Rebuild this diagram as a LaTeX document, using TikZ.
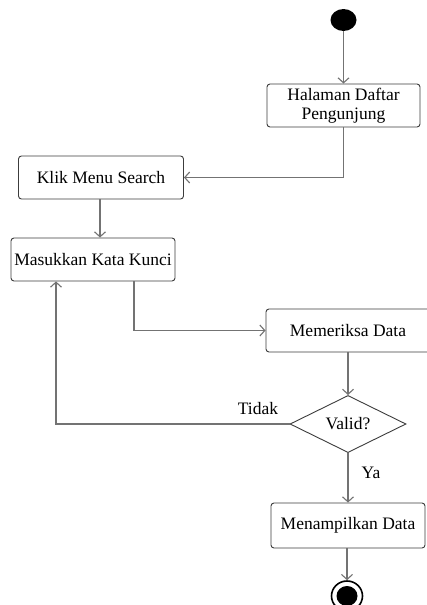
\documentclass[tikz,border=0pt]{standalone}
\usepackage{fontspec}
\setmainfont{Liberation Serif}
\usetikzlibrary{arrows.meta,shapes.geometric}
\definecolor{linegray}{RGB}{115,115,115}
\definecolor{boxgray}{RGB}{60,60,60}
\tikzset{
  actbox/.style={draw=boxgray, line width=0.9pt, rounded corners=3pt, fill=white,
    align=center, inner sep=2pt, font=\fontsize{17.5}{19}\selectfont},
  decis/.style={diamond, draw=boxgray, line width=0.9pt, fill=white, inner sep=0pt,
    minimum width=116pt, minimum height=54pt, font=\fontsize{17.5}{19}\selectfont},
  flow/.style={draw=linegray, line width=1.1pt,
    -{Straight Barb[length=5pt,width=11pt,line width=1.1pt]}},
  lbl/.style={font=\fontsize{17.5}{19}\selectfont},
}
\begin{document}
\begin{tikzpicture}[x=1pt,y=-1pt]
\fill[white] (0,0) rectangle (426,605);
\useasboundingbox (0,0) rectangle (426,605);

\node[ellipse, fill=black, minimum width=26pt, minimum height=22pt, inner sep=0pt] (start) at (343.5,20) {};
\node[actbox, minimum width=153pt, minimum height=43pt] (hal) at (343.5,105.5) {Halaman Daftar\\Pengunjung};
\node[actbox, minimum width=165pt, minimum height=43pt] (klik) at (101,177.5) {Klik Menu Search};
\node[actbox, minimum width=164pt, minimum height=43pt] (mas) at (93,259.5) {Masukkan Kata Kunci};
\node[actbox, minimum width=164pt, minimum height=43pt] (mem) at (348,330.5) {Memeriksa Data};
\node[decis] (dia) at (348,424) {Valid?};
\node[actbox, minimum width=154pt, minimum height=45pt] (men) at (348,525.5) {Menampilkan Data};
\node[ellipse, draw=black, line width=1.6pt, minimum width=31pt, minimum height=30pt, inner sep=0pt] (end) at (347,596) {};
\fill[black] (end.center) ellipse (10.5pt and 10pt);

\draw[flow] (start) -- (hal);
\draw[flow] (hal.south) |- (klik.east);
\draw[flow] ([xshift=-1pt]klik.south) -- ([xshift=-1pt]klik.south |- mas.north);
\draw[flow] ([xshift=41pt]mas.south) |- (mem.west);
\draw[flow] (mem.south) -- (dia.north);
\draw[flow] (dia.west) -| ([xshift=-37pt]mas.south);
\draw[flow] (dia.south) -- (men.north);
\draw[flow] ([xshift=-1pt]men.south) -- (end.north);

\node[lbl] (tidak) at (258,409) {Tidak};
\node[lbl] (ya) at (371,473) {Ya};
\end{tikzpicture}
\end{document}
